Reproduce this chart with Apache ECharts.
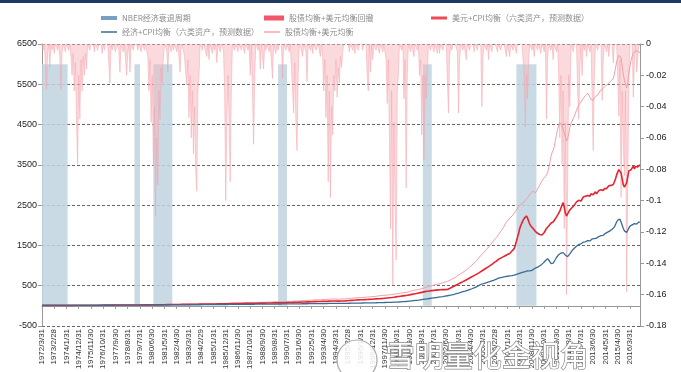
<!DOCTYPE html>
<html><head><meta charset="utf-8">
<script src="https://cdn.jsdelivr.net/npm/echarts@6/dist/echarts.min.js"></script>
<style>html,body{margin:0;padding:0;background:#fff}#c{width:681px;height:372px}</style>
</head><body><div id="c"></div>
<script>
// Monthly categories starting 1972/3 (538 months, to 2016/12)
const START_YEAR = 1972, START_MONTH = 3, MONTHS = 538;
const CATEGORIES = [];
for (let k = 0; k < MONTHS; k++) {
  const m0 = START_MONTH - 1 + k;
  const y = START_YEAR + Math.floor(m0 / 12), m = (m0 % 12) + 1;
  const d = new Date(y, m, 0).getDate();
  CATEGORIES.push(y + '/' + m + '/' + d);
}
const LEFT_TICKS = {min: -500, max: 6500, interval: 1000};
const RIGHT_TICKS = {min: -0.18, max: 0, interval: 0.02};

// NBER recession periods as [startIndex, endIndex], bar height
const RECESSIONS = [[0,23],[83,88],[100,117],[212,220],[342,350],[426,444]];
const RECESSION_HEIGHT = 6000;

// 股债均衡+美元均衡
const PINK = [
10,10,10,10,11,11,11,11,11,11,
11,11,11,12,12,12,11,12,12,12,12,12,
12,12,12,12,12,12,12,12,12,13,13,13,
13,13,13,14,14,14,14,14,14,15,15,15,
15,15,15,16,16,16,16,16,17,17,17,17,
17,17,17,17,18,18,18,18,18,19,19,19,
19,19,19,20,20,20,20,20,20,21,21,21,
21,22,22,22,22,23,23,23,24,23,24,25,
25,25,25,26,27,27,28,28,29,29,29,30,
30,30,31,31,31,32,32,31,32,33,33,34,
34,34,35,35,35,36,36,37,38,38,39,40,
40,41,41,42,42,43,43,43,44,44,45,46,
46,46,46,47,47,48,48,49,50,50,51,52,
52,53,53,54,55,56,56,57,58,59,61,62,
63,64,65,66,66,67,68,68,69,70,71,72,
73,74,75,75,75,76,77,77,76,76,78,80,
80,81,82,82,83,84,84,85,86,87,88,90,
91,92,93,94,96,98,99,100,101,102,103,105,
105,106,106,107,108,109,110,111,111,112,113,115,
116,118,119,121,122,124,125,127,129,131,133,135,
136,137,139,140,141,143,145,146,147,148,149,150,
152,154,156,158,159,161,162,164,166,167,168,170,
170,169,167,166,166,167,168,169,170,171,172,175,
177,180,183,186,189,192,194,196,198,200,202,205,
206,208,209,211,212,214,216,218,221,224,227,230,
232,235,237,241,246,250,254,256,259,260,262,265,
267,270,274,278,281,285,288,290,294,298,304,310,
315,318,322,326,330,335,340,345,352,360,370,380,
385,390,395,400,405,412,418,425,432,440,450,460,
470,478,485,492,500,508,515,520,528,535,542,550,
556,562,570,580,590,598,605,615,630,645,660,675,
690,705,720,740,760,780,800,815,830,850,870,890,
910,935,960,985,1010,1035,1060,1085,1110,1140,1180,1220,
1250,1280,1300,1330,1365,1395,1430,1460,1490,1520,1560,1600,
1630,1660,1690,1730,1770,1810,1850,1890,1930,1980,2030,2080,
2110,2140,2180,2200,2230,2260,2300,2340,2380,2420,2460,2500,
2520,2530,2540,2580,2620,2650,2690,2720,2760,2800,2830,2850,
2830,2800,2850,2900,2950,3000,3050,3100,3150,3180,3210,3240,
3300,3420,3550,3700,3800,3860,3950,4100,4250,4380,4480,4550,
4520,4450,4380,4300,4200,4090,4150,4280,4420,4520,4580,4640,
4700,4780,4860,4920,4980,5020,5060,5100,5150,5190,5220,5250,
5280,5230,5180,5120,5080,5100,5150,5200,5180,5230,5280,5330,
5350,5380,5400,5430,5460,5480,5500,5530,5560,5590,5610,5640,
5750,5900,6050,6150,6220,6260,6150,5950,5750,5600,5500,5410,
5550,5750,5950,6100,6200,6270,6300,6330,6340,6320,6300,6280
];

// 美元+CPI均衡（六类资产，预测数据）
const RED = [
10,10,10,10,10,10,10,10,10,10,
10,10,11,11,11,11,11,11,11,11,11,12,
12,12,12,12,12,12,12,12,13,13,13,13,
13,13,13,13,14,14,14,14,14,14,15,15,
15,15,15,15,16,16,16,16,16,16,17,17,
17,17,17,17,17,18,18,18,18,18,19,19,
19,19,19,19,20,20,20,20,20,21,21,21,
21,21,21,22,22,22,22,22,23,23,23,24,
24,24,24,25,25,25,25,26,26,26,27,27,
27,27,28,28,28,29,29,29,30,30,31,31,
31,32,32,32,33,33,34,34,35,35,36,36,
36,37,37,38,38,38,39,39,40,40,40,41,
41,41,42,42,42,43,43,44,44,45,45,46,
46,46,47,47,48,48,49,49,50,51,51,52,
52,53,53,54,54,55,55,56,56,57,57,58,
58,59,59,60,60,61,61,61,62,62,63,63,
63,64,64,65,65,66,66,67,67,68,68,69,
69,70,70,71,71,72,72,73,73,74,74,75,
75,76,77,77,78,79,80,81,81,82,83,84,
85,86,87,88,89,90,91,92,93,94,95,96,
97,98,99,100,101,102,103,104,105,106,107,108,
109,110,111,112,113,114,115,116,117,118,119,120,
120,119,118,117,117,118,119,120,121,122,123,125,
127,129,131,133,135,137,139,141,143,145,147,149,
150,151,152,153,154,155,156,158,160,162,164,166,
168,170,172,174,175,176,178,180,183,186,189,192,
195,198,201,204,207,210,214,218,222,226,230,234,
238,242,246,250,254,258,262,266,272,278,284,290,
295,300,305,310,316,322,328,334,340,346,352,358,
362,366,370,374,377,380,383,386,389,392,395,398,
398,400,401,402,403,404,405,418,432,446,460,474,
488,502,516,530,544,558,572,586,600,615,630,645,
660,675,690,705,720,735,750,765,780,795,812,830,
848,866,884,902,920,938,956,974,992,1010,1030,1050,
1070,1090,1110,1140,1155,1170,1185,1200,1215,1230,1245,1260,
1275,1290,1300,1330,1360,1380,1420,1500,1600,1700,1800,1920,
2000,2060,2120,2170,2200,2230,2180,2100,2030,1980,1950,1920,
1880,1850,1830,1800,1780,1770,1760,1760,1780,1820,1870,1920,
1950,1980,2020,2050,2070,2080,2120,2160,2200,2250,2300,2350,
2430,2500,2560,2450,2300,2230,2280,2330,2380,2420,2440,2460,
2500,2540,2580,2600,2620,2650,2600,2640,2700,2680,2720,2700,
2740,2760,2720,2780,2800,2760,2790,2830,2780,2820,2860,2840,
2880,2900,2860,2910,2940,2910,2950,2980,2950,2990,3010,3010,
3080,3150,3250,3320,3380,3390,3300,3150,3000,2950,2930,3050,
3200,3350,3390,3380,3420,3470,3400,3460,3500,3450,3480,3500
];

// 经济+CPI均衡（六类资产，预测数据）
const BLUE = [
10,10,10,10,10,10,10,10,10,10,
10,10,10,10,10,10,11,11,11,11,11,11,
11,11,11,11,11,11,11,11,12,12,12,12,
12,12,12,12,12,12,12,13,13,13,13,13,
13,13,13,13,13,14,14,14,14,14,14,14,
14,14,14,15,15,15,15,15,15,15,15,15,
15,16,16,16,16,16,16,16,16,17,17,17,
17,17,17,17,17,18,18,18,18,18,18,18,
18,18,19,19,19,19,19,19,20,20,20,20,
20,20,20,21,21,21,21,21,22,22,22,22,
22,22,23,23,23,23,23,24,24,24,24,25,
25,25,25,25,26,26,26,26,27,27,27,27,
27,28,28,28,28,29,29,29,29,30,30,30,
30,30,31,31,31,31,32,32,32,32,33,33,
33,33,34,34,34,34,35,35,35,35,36,36,
36,36,37,37,37,37,38,38,38,38,39,39,
39,39,40,40,40,40,41,41,41,41,42,42,
42,42,43,43,43,43,44,44,44,44,45,45,
45,45,46,46,46,46,47,47,47,47,48,48,
48,48,49,49,49,50,50,50,51,51,51,52,
52,52,53,53,53,54,54,54,55,55,55,56,
56,56,57,57,58,58,58,59,59,60,60,60,
60,60,60,60,61,61,61,62,62,62,63,63,
63,64,64,65,65,66,66,67,67,68,68,69,
69,70,70,71,71,72,72,73,73,74,74,75,
75,76,76,77,78,78,79,80,80,81,82,83,
84,85,86,87,88,89,90,91,92,94,95,97,
99,101,103,105,107,109,112,115,118,121,124,127,
130,133,136,139,142,146,150,154,158,162,166,170,
174,178,182,186,190,194,198,202,206,210,214,218,
222,226,230,235,240,245,250,256,262,268,274,280,
287,294,301,308,316,324,332,340,350,358,366,374,
384,394,404,414,424,434,446,458,470,484,500,520,
530,540,548,558,566,574,584,592,600,610,620,630,
640,652,665,680,688,694,700,706,712,718,724,730,
734,738,742,746,750,755,762,770,780,790,800,810,
818,826,834,842,850,860,870,880,870,860,880,900,
920,935,950,960,975,990,1010,1030,1060,1090,1120,1150,
1170,1150,1100,1050,1040,1060,1100,1150,1200,1240,1270,1290,
1310,1320,1320,1300,1260,1230,1220,1250,1290,1330,1370,1400,
1430,1460,1480,1500,1520,1530,1540,1560,1580,1570,1590,1600,
1620,1640,1610,1630,1660,1650,1670,1690,1680,1700,1720,1730,
1740,1760,1750,1780,1800,1810,1830,1850,1860,1880,1900,1920,
1960,2020,2080,2130,2160,2150,2080,2000,1920,1860,1830,1820,
1870,1930,1980,2000,2010,2000,2040,2060,2030,2070,2080,2080
];

// 股债均衡+美元均衡回撤 (right axis)
const DRAWDOWN = [
0,-0.004,0,-0.012,-0.029,-0.006,0,-0.015,0,-0.004,
0,-0.006,0,0,-0.004,0,-0.008,-0.029,-0.006,0,0,-0.005,
0,0,-0.004,0,-0.008,-0.02,-0.006,-0.03,-0.012,-0.05,-0.077,-0.02,
-0.048,-0.01,-0.03,-0.008,-0.02,-0.006,-0.016,0,0,-0.004,0,0,
0,-0.005,0,0,-0.004,0,0,0,-0.006,0,-0.004,0,
0,0,0,-0.025,0,-0.004,0,0,-0.005,0,0,-0.004,
-0.018,0,0,-0.005,0,0,-0.02,-0.006,0,-0.018,0,0,
-0.004,0,0,0,-0.004,0,0,-0.005,0,0,-0.004,0,
0,-0.008,-0.03,-0.01,-0.05,-0.02,-0.078,-0.04,-0.11,-0.06,-0.09,-0.03,
-0.048,-0.015,-0.025,-0.008,0,0,-0.004,-0.018,0,0,-0.005,0,
-0.004,0,0,-0.005,0,0,-0.018,0,0,-0.004,-0.008,-0.018,
-0.026,-0.01,-0.047,-0.02,-0.06,-0.03,-0.07,-0.04,-0.08,-0.094,-0.03,-0.02,
0,0,-0.004,0,0,-0.005,-0.008,0,-0.01,0,0,-0.006,
0,-0.004,0,-0.012,0,0,-0.005,0,0,-0.004,-0.03,-0.1,
-0.05,-0.02,-0.05,-0.088,-0.03,0,0,-0.004,0,0,-0.005,0,
0,-0.004,0,0,-0.006,0,0,-0.004,0,-0.02,0,-0.03,
-0.064,-0.02,0,0,-0.004,0,-0.016,0,0,-0.016,0,-0.004,
0,0,-0.005,0,0,-0.022,0,0,-0.006,0,-0.004,0,
0,0,-0.022,0,0,-0.004,0,0,-0.005,0,-0.015,-0.03,
-0.044,-0.012,-0.05,-0.068,-0.02,0,0,-0.004,-0.008,0,0,-0.005,
-0.024,0,0,-0.004,0,-0.006,0,0,-0.004,-0.005,0,0,
-0.008,0,-0.008,-0.03,-0.01,-0.047,-0.02,-0.088,-0.03,-0.098,-0.04,-0.058,
-0.02,-0.03,-0.01,-0.034,-0.015,-0.025,-0.008,-0.015,-0.005,0,0,0,
0,0,-0.005,0,0,-0.004,0,-0.006,0,0,-0.004,0,
0,0,-0.004,0,0,0,-0.02,-0.03,0,-0.018,0,-0.01,
0,0,-0.004,0,0,-0.006,0,0,-0.005,0,0,-0.01,
-0.038,-0.01,-0.06,-0.118,-0.03,-0.154,-0.05,-0.1,-0.138,-0.03,-0.02,0,
0,-0.004,0,-0.035,-0.01,-0.092,-0.02,0,0,-0.005,0,0,
-0.008,0,0,-0.004,0,-0.02,-0.01,-0.058,-0.02,-0.074,-0.02,-0.035,
-0.02,0,0,-0.004,0,0,-0.005,0,0,-0.006,0,-0.006,
0,0,-0.004,0,0,0,0,-0.044,-0.01,0,-0.004,0,
0,0,0,-0.005,-0.044,-0.01,0,0,-0.004,0,0,-0.01,
0,0,-0.004,0,0,0,-0.005,0,0,-0.004,0,0,
0,-0.04,-0.008,0,0,-0.004,0,-0.01,0,0,-0.005,0,
0,0,0,-0.005,0,0,-0.004,0,0,0,0,-0.008,
0,0,-0.008,0,0,-0.004,0,0,-0.006,0,0,0,
0,0,0,-0.02,-0.053,-0.02,-0.035,-0.01,0,0,-0.004,0,
-0.008,0,0,-0.004,0,0,-0.006,0,0,-0.005,0,-0.048,
-0.01,0,0,-0.004,0,-0.01,0,0,-0.005,0,-0.02,-0.06,
-0.02,-0.077,-0.03,-0.118,-0.05,-0.16,-0.09,-0.02,-0.04,0,0,-0.005,
0,0,0,-0.03,-0.048,-0.015,0,-0.02,0,-0.004,0,-0.008,
0,0,-0.005,0,0,-0.068,-0.02,0,0,-0.004,0,0,
0,-0.036,-0.01,0,0,-0.005,0,-0.008,0,0,0,-0.012,
0,0,0,-0.02,-0.046,-0.01,-0.098,-0.03,-0.066,-0.084,-0.03,-0.158,
-0.09,-0.02,0,0,0,-0.034,-0.01,0,-0.018,-0.008,0,0
];

const NAMES = {
  rec: 'NBER经济衰退周期',
  dd: '股债均衡+美元均衡回撤',
  red: '美元+CPI均衡（六类资产，预测数据）',
  blue: '经济+CPI均衡（六类资产，预测数据）',
  pink: '股债均衡+美元均衡'
};
const FONT = '"Noto Sans CJK SC", "Liberation Sans", sans-serif';

const chart = echarts.init(document.getElementById('c'), null, {renderer: 'canvas'});
const legendBase = {orient: 'horizontal', itemGap: 6, textStyle: {fontSize: 8, color: '#8c8c8c', fontFamily: FONT}, selectedMode: false};
chart.setOption({
  animation: false,
  backgroundColor: '#fff',
  grid: {left: 42, right: 41, top: 44, bottom: 28},
  legend: [
    Object.assign({}, legendBase, {left: 96, top: 9, icon: 'rect', itemWidth: 16, itemHeight: 4, data: [{name: NAMES.rec, itemStyle: {color: '#7b9fc2'}}]}),
    Object.assign({}, legendBase, {left: 259, top: 9, icon: 'rect', itemWidth: 20, itemHeight: 5, data: [{name: NAMES.dd, itemStyle: {color: '#f2566a'}}]}),
    Object.assign({}, legendBase, {left: 426, top: 9, icon: 'rect', itemWidth: 16, itemHeight: 3, data: [{name: NAMES.red, itemStyle: {color: '#ef4a55'}}]}),
    Object.assign({}, legendBase, {left: 96, top: 23, icon: 'rect', itemWidth: 16, itemHeight: 2, data: [{name: NAMES.blue, itemStyle: {color: '#6f8fae'}}]}),
    Object.assign({}, legendBase, {left: 259, top: 23, icon: 'rect', itemWidth: 16, itemHeight: 1.5, data: [{name: NAMES.pink, itemStyle: {color: '#f5a5ad'}}]})
  ],
  xAxis: {
    type: 'category', data: CATEGORIES, boundaryGap: false,
    axisLine: {onZero: true, lineStyle: {color: '#999'}},
    axisTick: {interval: 10, length: 3, lineStyle: {color: '#999'}},
    axisLabel: {interval: 10, rotate: 90, fontSize: 8, color: '#333', margin: 3, fontFamily: 'Liberation Sans'},
    splitLine: {show: false}
  },
  yAxis: [
    {type: 'value', min: LEFT_TICKS.min, max: LEFT_TICKS.max, interval: LEFT_TICKS.interval,
     axisLine: {show: true, lineStyle: {color: '#999'}}, axisTick: {show: true, length: 4, lineStyle: {color: '#999'}},
     axisLabel: {fontSize: 9, color: '#222', margin: 5, fontFamily: 'Liberation Sans', formatter: v => String(v)},
     splitLine: {show: true, lineStyle: {color: '#666', type: [3, 2], width: 1}}},
    {type: 'value', position: 'right', min: RIGHT_TICKS.min, max: RIGHT_TICKS.max, interval: RIGHT_TICKS.interval,
     axisLine: {show: true, lineStyle: {color: '#999'}}, axisTick: {show: true, length: 4, lineStyle: {color: '#999'}},
     axisLabel: {fontSize: 9, color: '#222', margin: 6, fontFamily: 'Liberation Sans'},
     splitLine: {show: false}}
  ],
  series: [
    {name: NAMES.rec, type: 'line', data: [], color: '#7b9fc2', z: 1,
     markArea: {silent: true, itemStyle: {color: '#bfd3e0', opacity: 0.85},
       data: RECESSIONS.map(([s, e]) => [{xAxis: CATEGORIES[s], yAxis: 0}, {xAxis: CATEGORIES[e], yAxis: RECESSION_HEIGHT}])}},
    {name: NAMES.dd, type: 'line', yAxisIndex: 1, data: DRAWDOWN, showSymbol: false, z: 2, color: '#f7aab2',
     lineStyle: {width: 0.5, color: '#f5a3ab'}, areaStyle: {color: '#f8b6bd', opacity: 0.5}},
    {name: NAMES.pink, type: 'line', data: PINK, showSymbol: false, z: 3, color: '#f4a0a7', lineStyle: {width: 1, color: '#f39ea6'}},
    {name: NAMES.red, type: 'line', data: RED, showSymbol: false, z: 4, color: '#e52430', lineStyle: {width: 1.6, color: '#e52430'}},
    {name: NAMES.blue, type: 'line', data: BLUE, showSymbol: false, z: 5, color: '#3a6b93', lineStyle: {width: 1.3, color: '#3a6b93'}}
  ],
  graphic: [
    {type: 'rect', left: 0, top: 0, shape: {width: 681, height: 3}, style: {fill: '#1d3b60'}, silent: true},
    {type: 'circle', shape: {cx: 357, cy: 360, r: 20}, style: {fill: 'rgba(255,255,255,0.85)', stroke: '#aaa', lineWidth: 1.2}, silent: true, z: 100},
    {type: 'text', left: 385, top: 341, silent: true, z: 100,
     style: {text: '雪明量化金视角', fontSize: 29, fontFamily: FONT, fill: '#fff', stroke: '#8a8a8a', lineWidth: 1.4}}
  ]
});
</script>
</body></html>
